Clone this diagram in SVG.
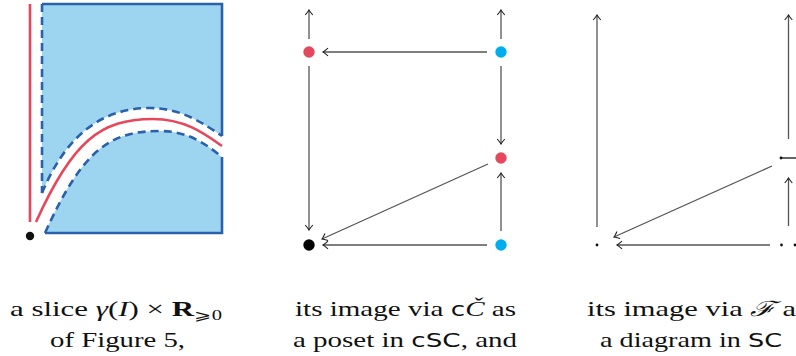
<svg xmlns="http://www.w3.org/2000/svg" width="796" height="356" viewBox="0 0 796 356">
<style>
.fill{fill:#9dd5f0;stroke:none}
.edge{fill:none;stroke:#2b60ab;stroke-width:2.6}
.dash{fill:none;stroke:#2b60ab;stroke-width:2.6;stroke-dasharray:8 5}
.red{fill:none;stroke:#e6475b;stroke-width:2.6}
.arr{fill:none;stroke:#555;stroke-width:1.3;marker-end:url(#ah)}
.t{font-family:"Liberation Serif","Times New Roman",serif;font-size:21px;fill:#111}
.sf{font-family:"DejaVu Sans","Liberation Sans",sans-serif;font-size:19px}
.it{font-style:italic}
</style>
<defs>
<marker id="ah" viewBox="-6 -5 8 10" refX="0" refY="0" markerWidth="8" markerHeight="10" orient="auto" markerUnits="userSpaceOnUse">
<path d="M-5,-3.8 Q-1.5,-0.8 0,0 Q-1.5,0.8 -5,3.8" fill="none" stroke="#222" stroke-width="1.1"/>
</marker>
</defs>

<g id="slice">
<path class="fill" d="M42,4 H222 V136 C204,124 182,108 150,108 C98,108 64,140 42,193 Z"/>
<path class="fill" d="M45,233 C83,149 110,131 160,131 C190,131 208,146 222,157 V233 Z"/>
<path class="edge" d="M42,4 H222 V136"/>
<path class="edge" d="M222,157 V233 H45"/>
<path class="dash" d="M42,4 V193"/>
<path class="dash" d="M42,193 C64,140 98,108 150,108 C182,108 204,124 222,136"/>
<path class="dash" d="M45,233 C83,149 110,131 160,131 C190,131 208,146 222,157"/>
<path class="red" d="M30,4 V222"/>
<path class="red" d="M36,222 C72,142 100,119 153,119 C185,119 205,134 222,146"/>
<circle cx="30" cy="236" r="4.2" fill="#111"/>
</g>

<g id="poset-nodes">
<circle id="p-tl" cx="309" cy="52" r="5.7" fill="#e5485d"/>
<circle id="p-tr" cx="501" cy="52" r="5.7" fill="#00aeef"/>
<circle id="p-mr" cx="501" cy="158" r="5.7" fill="#e5485d"/>
<circle id="p-bl" cx="309" cy="245" r="5.7" fill="#000"/>
<circle id="p-br" cx="501" cy="245" r="5.7" fill="#00aeef"/>
</g>

<g id="diagram-nodes">
<circle id="d-bl" cx="597" cy="245" r="1.4" fill="#111"/>
<g id="d-mr"><circle cx="781" cy="158" r="1.4" fill="#111"/><line x1="781" y1="158" x2="796" y2="158" stroke="#111" stroke-width="1.3"/></g>
<g id="d-br"><circle cx="781.5" cy="245" r="1.4" fill="#111"/><circle cx="795" cy="245" r="1.4" fill="#111"/></g>
</g>

<g id="connectors">
<line class="arr" x1="309" y1="39" x2="309" y2="10"/>
<line class="arr" x1="501" y1="39" x2="501" y2="10"/>
<line class="arr" x1="487" y1="52" x2="323" y2="52"/>
<line class="arr" x1="309" y1="66" x2="309" y2="230"/>
<line class="arr" x1="501" y1="66" x2="501" y2="144"/>
<line class="arr" x1="501" y1="231" x2="501" y2="173"/>
<line class="arr" x1="488" y1="164" x2="322" y2="239"/>
<line class="arr" x1="487" y1="245" x2="323" y2="245"/>
<line class="arr" x1="597" y1="227" x2="597" y2="15"/>
<line class="arr" x1="788.5" y1="139" x2="788.5" y2="15"/>
<line class="arr" x1="788.5" y1="226" x2="788.5" y2="178"/>
<line class="arr" x1="770" y1="245" x2="617" y2="245"/>
<line class="arr" x1="772" y1="166" x2="614" y2="237"/>
</g>

<g id="captions">
<text class="t" x="10" y="316" textLength="212" lengthAdjust="spacingAndGlyphs">a slice <tspan class="it">γ</tspan>(<tspan class="it">I</tspan>) × <tspan font-weight="bold">R</tspan><tspan font-size="14" dy="4">⩾0</tspan></text>
<text class="t" x="50" y="347" textLength="135" lengthAdjust="spacingAndGlyphs">of Figure 5,</text>
<text class="t" x="295" y="316" textLength="221" lengthAdjust="spacingAndGlyphs">its image via <tspan class="sf">c</tspan><tspan class="it">Č</tspan> as</text>
<text class="t" x="293" y="347" textLength="224" lengthAdjust="spacingAndGlyphs">a poset in <tspan class="sf">cSC</tspan>, and</text>
<text class="t" x="587" y="316" textLength="221" lengthAdjust="spacingAndGlyphs">its image via <tspan class="it">ℱ</tspan> as</text>
<text class="t" x="600" y="347" textLength="182" lengthAdjust="spacingAndGlyphs">a diagram in <tspan class="sf">SC</tspan></text>
</g>
</svg>
